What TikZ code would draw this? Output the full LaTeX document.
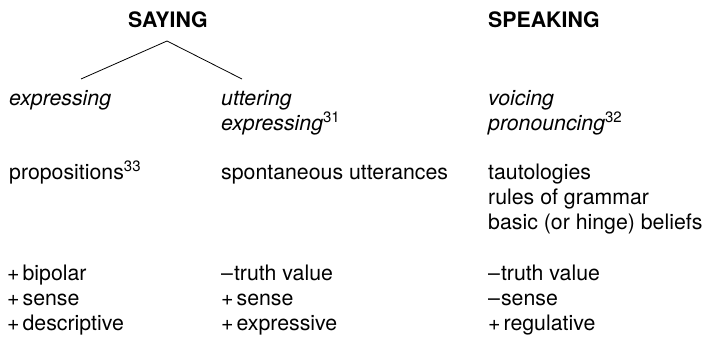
\documentclass[tikz,border=0pt]{standalone}
\usepackage{fontspec}
\setmainfont{TeX Gyre Heros}
\newcommand{\fnmark}[1]{\raisebox{8pt}{\fontsize{15}{15}\selectfont\upshape #1}}

\begin{document}
\begin{tikzpicture}[x=1pt,y=-1pt,
    txt/.style={anchor=base west,inner sep=0pt,font=\fontsize{21.3}{25}\selectfont},
    head/.style={txt,font=\fontsize{21.3}{25}\selectfont\bfseries},
    term/.style={txt,font=\fontsize{21.3}{25}\selectfont\itshape}]
    \useasboundingbox (0,0) rectangle (704,337);
    % headings
    \node[head] (saying) at (128,28) {SAYING};
    \node[head] (speaking) at (488,28) {SPEAKING};
    % branches
    \coordinate (apex) at (167,41);
    \coordinate (leftend) at (81,79);
    \coordinate (rightend) at (242,79);
    \draw[line width=0.8pt] (leftend) -- (apex) -- (rightend);
    % terms
    \node[term] (expr) at (9,106) {expressing};
    \node[term] (utter) at (221,106) {uttering};
    \node[term] (expr2) at (221,130) {expressing\/\fnmark{31}};
    \node[term] (voice) at (488,106) {voicing};
    \node[term] (pron) at (488,130) {pronouncing\/\fnmark{32}};
    % examples
    \node[txt] (prop) at (9,179) {propositions\fnmark{33}};
    \node[txt] (spont) at (221,179) {spontaneous utterances};
    \node[txt] (taut) at (488,179) {tautologies};
    \node[txt] (rules) at (488,204) {rules of grammar};
    \node[txt] (basic) at (488,229) {basic (or hinge) beliefs};
    % features
    \node[txt] (a1) at (7,280) {+\kern3pt bipolar};
    \node[txt] (a2) at (7,305) {+\kern3pt sense};
    \node[txt] (a3) at (7,330) {+\kern3pt descriptive};
    \node[txt] (b1) at (221,280) {--\kern1pt truth value};
    \node[txt] (b2) at (221,305) {+\kern3pt sense};
    \node[txt] (b3) at (221,330) {+\kern3pt expressive};
    \node[txt] (c1) at (488,280) {--\kern1pt truth value};
    \node[txt] (c2) at (488,305) {--\kern1pt sense};
    \node[txt] (c3) at (488,330) {+\kern3pt regulative};
\end{tikzpicture}
\end{document}
